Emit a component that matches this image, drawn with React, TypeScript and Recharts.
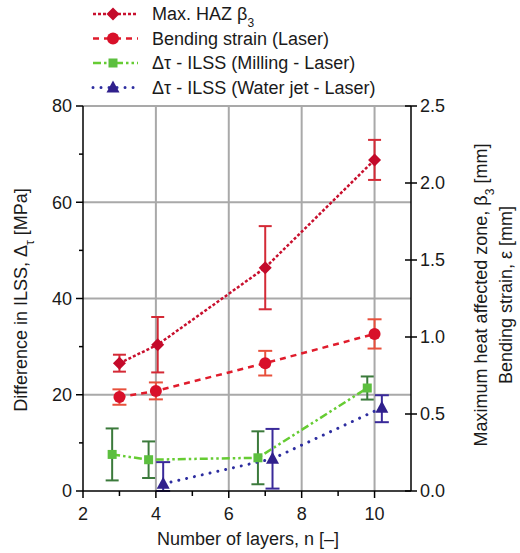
import React from 'react';
import { CartesianGrid, ComposedChart, ErrorBar, Scatter, XAxis, YAxis } from 'recharts';

// values (x = number of layers)
const hazLayers = [3.0, 4.05, 7.0, 10.0];
const hazMm = [0.83, 0.95, 1.45, 2.15];
const hazErr = [0.055, 0.18, 0.27, 0.13];

const strainLayers = [3.0, 4.0, 7.0, 10.0];
const strainMm = [0.61, 0.65, 0.83, 1.02];
const strainErr = [0.05, 0.055, 0.08, 0.095];

const millingLayers = [2.8, 3.8, 6.8, 9.8];
const millingMpa = [7.6, 6.5, 6.9, 21.4];
const millingErr = [5.4, 3.8, 5.5, 2.4];

const waterLayers = [4.2, 7.2, 10.2];
const waterMpa = [1.5, 6.7, 17.3];
const waterErrLow = [1.5, 6.2, 3.0];
const waterErrHigh = [4.5, 6.2, 2.6];

const xTicks = [2, 3, 4, 5, 6, 7, 8, 9, 10];
const leftTicks = [0, 10, 20, 30, 40, 50, 60, 70, 80];
const rightTicks = [0, 0.5, 1.0, 1.5, 2.0, 2.5];

const FONT = '"Liberation Sans", Arial, sans-serif';
const TXT = '#1a1a1a';

const COLORS = {
  haz: { line: '#c8102e', mark: '#c40a2a', err: '#d42a36' },
  strain: { line: '#e01c2c', mark: '#d8102a', err: '#e8503c' },
  milling: { line: '#66cc33', mark: '#5cbf3f', err: '#3b7a3b' },
  water: { line: '#2e2ea0', mark: '#30208c', err: '#3a2a9a' },
};

const hazData = hazLayers.map((n, i) => ({ n, v: hazMm[i], err: hazErr[i] }));
const strainData = strainLayers.map((n, i) => ({ n, v: strainMm[i], err: strainErr[i] }));
const millingData = millingLayers.map((n, i) => ({ n, v: millingMpa[i], err: millingErr[i] }));
const waterData = waterLayers.map((n, i) => ({ n, v: waterMpa[i], err: [waterErrLow[i], waterErrHigh[i]] }));

type MarkProps = { cx?: number; cy?: number; fill?: string };

const Diamond = ({ cx = 0, cy = 0, fill }: MarkProps) => (
  <path d={`M${cx},${cy - 6.5}L${cx + 6.5},${cy}L${cx},${cy + 6.5}L${cx - 6.5},${cy}Z`} fill={fill} />
);
const Dot = ({ cx = 0, cy = 0, fill }: MarkProps) => <circle cx={cx} cy={cy} r={6} fill={fill} />;
const Square = ({ cx = 0, cy = 0, fill }: MarkProps) => (
  <rect x={cx - 4.5} y={cy - 4.5} width={9} height={9} fill={fill} />
);
const Triangle = ({ cx = 0, cy = 0, fill }: MarkProps) => (
  <path d={`M${cx},${cy - 7}L${cx + 6.5},${cy + 5}L${cx - 6.5},${cy + 5}Z`} fill={fill} />
);

const LEGEND = [
  { key: 'haz', label: <>Max. HAZ β<tspan baselineShift="sub" fontSize={12}>3</tspan></>, Mark: Diamond, dash: '3 2', width: 2.5 },
  { key: 'strain', label: <>Bending strain (Laser)</>, Mark: Dot, dash: '6 5', width: 2.5 },
  { key: 'milling', label: <>Δτ - ILSS (Milling - Laser)</>, Mark: Square, dash: '8 3 2.5 3 2.5 3', width: 2.5 },
  { key: 'water', label: <>Δτ - ILSS (Water jet - Laser)</>, Mark: Triangle, dash: '0.01 8', width: 3 },
] as const;

const LeftTick = (props: any) => {
  const { x, y, payload } = props;
  const major = payload.value % 20 === 0;
  const ax = x + 11;
  return (
    <g>
      <line x1={ax - (major ? 7 : 4)} x2={ax} y1={y} y2={y} stroke="#000" strokeWidth={1.5} />
      {major && (
        <text x={x} y={y} dy="0.36em" textAnchor="end" fontSize={18} fontFamily={FONT} fill={TXT}>
          {payload.value}
        </text>
      )}
    </g>
  );
};

const RightTick = (props: any) => {
  const { x, y, payload } = props;
  const ax = x - 9;
  return (
    <g>
      <line x1={ax - 6} x2={ax + 6} y1={y} y2={y} stroke="#000" strokeWidth={1.5} />
      <text x={x} y={y} dy="0.36em" textAnchor="start" fontSize={18} fontFamily={FONT} fill={TXT}>
        {payload.value.toFixed(1)}
      </text>
    </g>
  );
};

const BottomTick = (props: any) => {
  const { x, y, payload } = props;
  const major = payload.value % 2 === 0;
  const ay = y - 12;
  return (
    <g>
      <line x1={x} x2={x} y1={ay} y2={ay + (major ? 7 : 5)} stroke="#000" strokeWidth={1.5} />
      {major && (
        <text x={x} y={y} dy="0.95em" textAnchor="middle" fontSize={18} fontFamily={FONT} fill={TXT}>
          {payload.value}
        </text>
      )}
    </g>
  );
};

const LeftTitle = () => (
  <text transform="translate(27,300) rotate(-90)" textAnchor="middle" fontSize={18} fontFamily={FONT} fill={TXT}>
    Difference in ILSS, Δ<tspan baselineShift="sub" fontSize={12}>τ</tspan> [MPa]
  </text>
);

const RightTitle = () => (
  <g fontSize={18} fontFamily={FONT} fill={TXT} textAnchor="middle">
    <text transform="translate(487,295) rotate(-90)">
      Maximum heat affected zone, β<tspan baselineShift="sub" fontSize={12}>3</tspan> [mm]
    </text>
    <text transform="translate(512,295) rotate(-90)">Bending strain, ε [mm]</text>
  </g>
);

const BottomTitle = () => (
  <text x={248} y={545} textAnchor="middle" fontSize={18} fontFamily={FONT} fill={TXT}>
    Number of layers, n [–]
  </text>
);

export default function App() {
  return (
    <div style={{ position: 'absolute', left: 0, top: 0, width: 520, height: 553, background: '#fff' }}>
      <ComposedChart width={520} height={553} margin={{ top: 106, right: 0, bottom: 0, left: 0 }}>
        <XAxis
          type="number"
          dataKey="n"
          domain={[2, 11]}
          ticks={xTicks}
          height={62}
          tickSize={7}
          tickMargin={5}
          tickLine={false}
          axisLine={{ stroke: '#000', strokeWidth: 1.5 }}
          tick={<BottomTick />}
          interval={0}
          label={<BottomTitle />}
        />
        <YAxis
          yAxisId="left"
          type="number"
          domain={[0, 80]}
          ticks={leftTicks}
          width={83}
          tickSize={7}
          tickMargin={4}
          tickLine={false}
          axisLine={{ stroke: '#000', strokeWidth: 1.5 }}
          tick={<LeftTick />}
          interval={0}
          label={<LeftTitle />}
        />
        <YAxis
          yAxisId="right"
          orientation="right"
          type="number"
          domain={[0, 2.5]}
          ticks={rightTicks}
          width={109}
          tickSize={6}
          tickMargin={3}
          tickLine={false}
          axisLine={{ stroke: '#000', strokeWidth: 1.5 }}
          tick={<RightTick />}
          interval={0}
          label={<RightTitle />}
        />
        <CartesianGrid
          yAxisId="left"
          stroke="#a9a9a9"
          strokeWidth={2}
          horizontalValues={[20, 40, 60, 80]}
          verticalValues={[4, 6, 8, 10]}
        />
        <Scatter
          name="water"
          data={waterData}
          dataKey="v"
          yAxisId="left"
          fill={COLORS.water.mark}
          line={{ stroke: COLORS.water.line, strokeWidth: 3, strokeDasharray: '0.01 8', strokeLinecap: 'round' }}
          shape={(p: any) => <Triangle cx={p.cx} cy={p.cy} fill={COLORS.water.mark} />}
          isAnimationActive={false}
        >
          <ErrorBar dataKey="err" direction="y" stroke={COLORS.water.err} strokeWidth={2} width={7} />
        </Scatter>
        <Scatter
          name="milling"
          data={millingData}
          dataKey="v"
          yAxisId="left"
          fill={COLORS.milling.mark}
          line={{ stroke: COLORS.milling.line, strokeWidth: 2.5, strokeDasharray: '8 3 2.5 3 2.5 3' }}
          shape={(p: any) => <Square cx={p.cx} cy={p.cy} fill={COLORS.milling.mark} />}
          isAnimationActive={false}
        >
          <ErrorBar dataKey="err" direction="y" stroke={COLORS.milling.err} strokeWidth={2} width={6.5} />
        </Scatter>
        <Scatter
          name="strain"
          data={strainData}
          dataKey="v"
          yAxisId="right"
          fill={COLORS.strain.mark}
          line={{ stroke: COLORS.strain.line, strokeWidth: 2.5, strokeDasharray: '6 5' }}
          shape={(p: any) => <Dot cx={p.cx} cy={p.cy} fill={COLORS.strain.mark} />}
          isAnimationActive={false}
        >
          <ErrorBar dataKey="err" direction="y" stroke={COLORS.strain.err} strokeWidth={2} width={7} />
        </Scatter>
        <Scatter
          name="haz"
          data={hazData}
          dataKey="v"
          yAxisId="right"
          fill={COLORS.haz.mark}
          line={{ stroke: COLORS.haz.line, strokeWidth: 2.5, strokeDasharray: '3 2' }}
          shape={(p: any) => <Diamond cx={p.cx} cy={p.cy} fill={COLORS.haz.mark} />}
          isAnimationActive={false}
        >
          <ErrorBar dataKey="err" direction="y" stroke={COLORS.haz.err} strokeWidth={2} width={6.5} />
        </Scatter>
      </ComposedChart>
      <svg width={520} height={100} style={{ position: 'absolute', left: 0, top: 0 }}>
        {LEGEND.map((item, i) => {
          const c = COLORS[item.key];
          const y = 14 + i * 24.5;
          const Mark = item.Mark;
          return (
            <g key={item.key}>
              <line
                x1={93}
                x2={138}
                y1={y}
                y2={y}
                stroke={c.line}
                strokeWidth={item.width}
                strokeDasharray={item.dash}
                strokeLinecap={item.key === 'water' ? 'round' : 'butt'}
              />
              <Mark cx={113} cy={y} fill={c.mark} />
              <text x={152} y={y} dy="0.36em" fontSize={18} fontFamily={FONT} fill={TXT}>
                {item.label}
              </text>
            </g>
          );
        })}
      </svg>
    </div>
  );
}
